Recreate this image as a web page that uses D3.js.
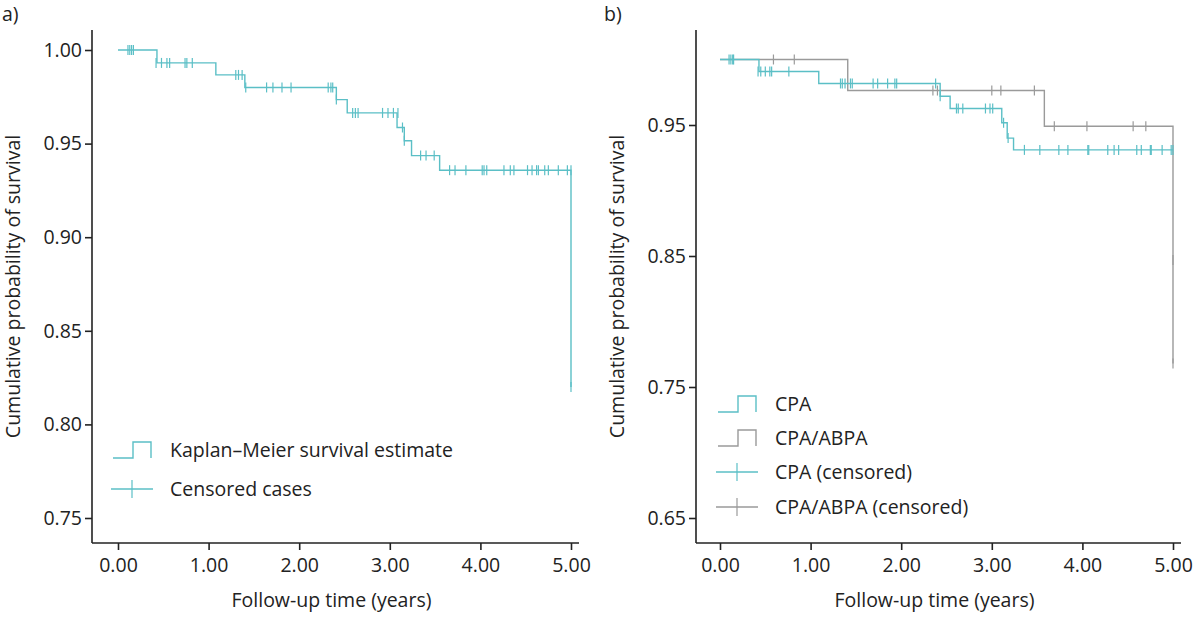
<!DOCTYPE html>
<html><head><meta charset="utf-8">
<script src="https://cdn.jsdelivr.net/npm/d3@7"></script>
<style>body{margin:0;background:#fff}text{font-family:"Open Sans",sans-serif;fill:#222}</style>
</head><body>
<script>
var teal = "#5bbfc6", grey = "#9a9a9a";
var FS = 19.5;

// panel a: event steps (time, survival) and censored times per level
var aSteps = [[0,1],[0.43,0.9931],[1.08,0.9867],[1.40,0.980],[2.41,0.9735],[2.53,0.9664],[3.08,0.9586],[3.16,0.9515],[3.24,0.9436],[3.55,0.9358],[5.0,0.9358],[5.0,0.82]];
var aCensored = [
  [1,[0.11,0.13,0.15,0.17]],
  [0.9931,[0.42,0.48,0.54,0.57,0.74,0.76,0.82]],
  [0.9867,[1.30,1.33,1.37]],
  [0.980,[1.41,1.64,1.71,1.81,1.91,2.32,2.35,2.37]],
  [0.9735,[2.41]],
  [0.9664,[2.59,2.62,2.65,2.92,2.98,3.04,3.09]],
  [0.9586,[3.14]],
  [0.9515,[3.16]],
  [0.9436,[3.34,3.40,3.49]],
  [0.9358,[3.66,3.72,3.84,4.02,4.04,4.07,4.26,4.33,4.37,4.52,4.57,4.62,4.64,4.71,4.75,4.86,4.96,5.0]],
  [0.82,[5.0]]
];
var aTicksY = [0.75,0.80,0.85,0.90,0.95,1.00];

// panel b
var cpaSteps = [[0,1],[0.43,0.9908],[1.09,0.9817],[2.43,0.972],[2.54,0.9626],[3.11,0.9517],[3.17,0.940],[3.24,0.931],[5.0,0.931]];
var cpaCensored = [
  [1,[0.10,0.12,0.14,0.15]],
  [0.9908,[0.42,0.45,0.50,0.55,0.57,0.76]],
  [0.9817,[1.33,1.35,1.38,1.44,1.46,1.69,1.74,1.85,1.93,1.95,2.38]],
  [0.972,[2.43]],
  [0.9626,[2.61,2.63,2.68,2.93,2.98,3.01]],
  [0.9517,[3.13]],
  [0.940,[3.18]],
  [0.931,[3.36,3.53,3.74,3.84,4.06,4.07,4.28,4.35,4.40,4.60,4.65,4.75,4.76,4.88,4.98,5.0]]
];
var abpaSteps = [[0,1],[1.41,0.9763],[3.58,0.949],[5.0,0.949],[5.0,0.847],[5.0,0.768]];
var abpaCensored = [
  [1,[0.59,0.82]],
  [0.9763,[2.35,2.40,3.00,3.10,3.47]],
  [0.949,[3.69,4.05,4.56,4.70]],
  [0.847,[5.0]],
  [0.768,[5.0]]
];
var bTicksY = [0.65,0.75,0.85,0.95];
var xTicks = [0,1,2,3,4,5];

var svg = d3.select("body").append("svg").attr("width",1200).attr("height",618);

function panel(o) {
  var x = d3.scaleLinear().domain([0,5]).range([o.x0,o.x1]);
  var y = d3.scaleLinear().domain(o.ydom).range(o.yr);
  var g = svg.append("g");
  g.append("text").attr("x",o.lx).attr("y",21).attr("font-size",FS).text(o.label);
  g.append("g").attr("transform","translate(0,"+o.bottom+")")
    .call(d3.axisBottom(x).tickValues(xTicks).tickFormat(d3.format(".2f")).tickSize(7).tickPadding(8).tickSizeOuter(0))
    .call(function(a){ a.select(".domain").attr("d","M"+o.axisX+",0H"+(o.x1+8)); });
  g.append("g").attr("transform","translate("+o.axisX+",0)")
    .call(d3.axisLeft(y).tickValues(o.yTicks).tickFormat(d3.format(".2f")).tickSize(7).tickSizeOuter(0))
    .call(function(a){ a.select(".domain").attr("d","M0,30V"+o.bottom); });
  g.selectAll(".tick text").attr("font-size",FS).style("font-family","'Open Sans',sans-serif").attr("fill","#222");
  g.selectAll(".domain,.tick line").attr("stroke","#222").attr("stroke-width",1.6);
  g.append("text").attr("x",(o.axisX+o.x1)/2).attr("y",607).attr("text-anchor","middle").attr("font-size",FS).text("Follow-up time (years)");
  g.append("text").attr("transform","translate("+o.ytx+","+(30+o.bottom)/2+") rotate(-90)").attr("text-anchor","middle").attr("font-size",FS).text("Cumulative probability of survival");
  var line = d3.line().x(function(d){return x(d[0]);}).y(function(d){return y(d[1]);}).curve(d3.curveStepAfter);
  o.series.forEach(function(s){
    g.append("path").attr("d",line(s.steps)).attr("fill","none").attr("stroke",s.color).attr("stroke-width",1.4);
    s.cens.forEach(function(c){
      g.selectAll(null).data(c[1]).enter().append("line")
        .attr("x1",function(t){return x(t);}).attr("x2",function(t){return x(t);})
        .attr("y1",y(c[0])-5).attr("y2",y(c[0])+5).attr("stroke",s.color).attr("stroke-width",1.2);
    });
  });
  // legend
  o.legend.forEach(function(l,i){
    var ly = o.legY[i], lx = o.legX;
    if (l.type==="step") {
      g.append("path").attr("d","M"+lx+","+(ly+8)+"H"+(lx+20)+"V"+(ly-8)+"H"+(lx+38)+"V"+(ly+8))
        .attr("fill","none").attr("stroke",l.color).attr("stroke-width",1.4);
    } else {
      g.append("line").attr("x1",lx-2).attr("x2",lx+40).attr("y1",ly).attr("y2",ly).attr("stroke",l.color).attr("stroke-width",1.4);
      g.append("line").attr("x1",lx+19).attr("x2",lx+19).attr("y1",ly-9).attr("y2",ly+9).attr("stroke",l.color).attr("stroke-width",1.2);
    }
    g.append("text").attr("x",lx+57).attr("y",ly+7).attr("font-size",FS).text(l.text);
  });
}

panel({label:"a)",lx:2,x0:118,x1:571,axisX:92,bottom:543,ydom:[0.75,1.0],yr:[518,50],yTicks:aTicksY,ytx:20,
  series:[{steps:aSteps,cens:aCensored,color:teal}],
  legX:113,legY:[450,489],
  legend:[{type:"step",color:teal,text:"Kaplan\u2013Meier survival estimate"},{type:"cens",color:teal,text:"Censored cases"}]});

panel({label:"b)",lx:604,x0:720,x1:1173,axisX:696,bottom:543,ydom:[0.65,1.0],yr:[518,59.5],yTicks:bTicksY,ytx:624,
  series:[{steps:abpaSteps,cens:abpaCensored,color:grey},{steps:cpaSteps,cens:cpaCensored,color:teal}],
  legX:718,legY:[404,438,472,507],
  legend:[{type:"step",color:teal,text:"CPA"},{type:"step",color:grey,text:"CPA/ABPA"},{type:"cens",color:teal,text:"CPA (censored)"},{type:"cens",color:grey,text:"CPA/ABPA (censored)"}]});
</script>
</body></html>
